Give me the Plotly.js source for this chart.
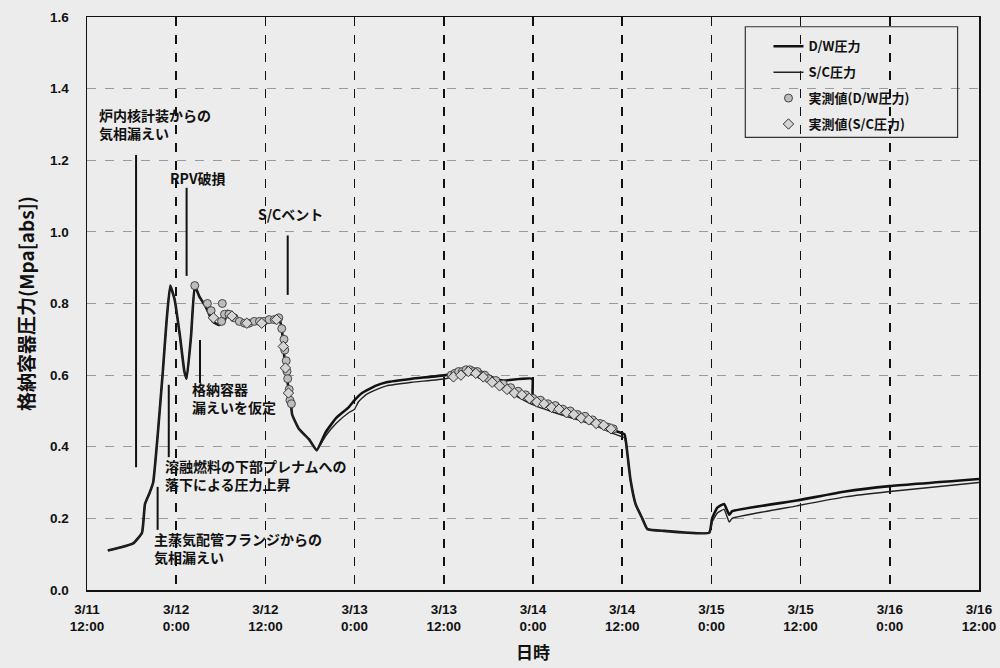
<!DOCTYPE html>
<html>
<head>
<meta charset="utf-8">
<script src="https://cdn.plot.ly/plotly-3.0.1.min.js"></script>
<style>
html,body{margin:0;padding:0;background:#ececec;}
#chart{width:1000px;height:668px;}
</style>
</head>
<body>
<div id="chart"></div>
<script>
// Hours elapsed since 2011-03-11 12:00
const dwHours = [2.8, 6.2, 7.4, 7.8, 8.4, 8.9, 9.5, 10.2, 10.7, 11.2, 11.8, 12.5, 13.1, 13.4, 14.0, 14.5, 15.1, 16.0, 16.9, 17.8, 18.5, 18.9, 19.6, 20.9, 22.8, 24.5, 25.8, 26.2, 26.5, 26.9, 27.4, 27.6, 28.5, 29.9, 30.9, 32.1, 33.5, 35.2, 36.0, 37.0, 38.8, 40.3, 43.7, 48.2, 49.9, 51.7, 53.0, 54.9, 56.0, 59.9, 60.0, 63.7, 68.3, 71.0, 72.3, 72.7, 73.1, 73.8, 74.7, 75.4, 77.6, 83.7, 84.1, 84.8, 85.7, 86.4, 86.8, 95.5, 102.0, 108.0, 120.0];
const dwPressure = [0.11, 0.13, 0.16, 0.24, 0.27, 0.30, 0.43, 0.61, 0.75, 0.85, 0.81, 0.71, 0.61, 0.59, 0.71, 0.85, 0.82, 0.79, 0.75, 0.74, 0.75, 0.78, 0.77, 0.75, 0.75, 0.75, 0.76, 0.73, 0.66, 0.59, 0.53, 0.49, 0.45, 0.42, 0.39, 0.44, 0.48, 0.51, 0.53, 0.55, 0.57, 0.58, 0.59, 0.60, 0.61, 0.62, 0.61, 0.59, 0.585, 0.59, 0.54, 0.505, 0.475, 0.445, 0.435, 0.38, 0.31, 0.24, 0.20, 0.17, 0.165, 0.16, 0.20, 0.23, 0.24, 0.21, 0.22, 0.25, 0.275, 0.29, 0.31];

const scHours = [2.8, 6.2, 7.4, 7.8, 8.4, 8.9, 9.5, 10.2, 10.7, 11.2, 11.8, 12.5, 13.1, 13.4, 14.0, 14.5, 15.1, 16.0, 16.9, 17.8, 18.5, 18.9, 19.6, 20.9, 22.8, 24.5, 25.8, 26.2, 26.5, 26.9, 27.4, 27.6, 28.5, 29.9, 30.9, 32.1, 33.5, 35.2, 36.0, 36.5, 37.5, 39.0, 40.3, 43.7, 48.2, 49.9, 51.7, 53.0, 55.0, 57.0, 59.7, 63.7, 68.3, 71.0, 72.3, 72.7, 73.1, 73.8, 74.7, 75.4, 77.6, 83.7, 84.1, 84.8, 85.7, 86.4, 86.8, 95.5, 102.0, 108.0, 120.0];
const scPressure = [0.11, 0.13, 0.16, 0.24, 0.27, 0.30, 0.43, 0.61, 0.75, 0.85, 0.81, 0.71, 0.61, 0.59, 0.71, 0.85, 0.82, 0.79, 0.75, 0.74, 0.75, 0.78, 0.77, 0.75, 0.75, 0.75, 0.76, 0.73, 0.66, 0.59, 0.53, 0.49, 0.45, 0.42, 0.39, 0.43, 0.465, 0.495, 0.505, 0.525, 0.545, 0.56, 0.57, 0.58, 0.59, 0.60, 0.615, 0.60, 0.57, 0.55, 0.52, 0.49, 0.46, 0.435, 0.425, 0.38, 0.31, 0.24, 0.20, 0.17, 0.165, 0.16, 0.19, 0.215, 0.225, 0.19, 0.20, 0.235, 0.26, 0.275, 0.30];

const dwMeasHours = [14.5, 16.2, 16.7, 18.1, 18.2, 18.5, 19.1, 19.8, 20.5, 21.2, 21.8, 22.5, 23.2, 23.8, 24.5, 25.2, 25.8, 26.2, 26.5, 26.6, 26.8, 26.9, 27.0, 27.2, 27.3, 27.5,
  49.0, 49.5, 50.0, 50.5, 51.0, 51.5, 52.0, 52.5, 53.0, 53.5, 54.0, 55.0, 56.0, 57.0, 58.0, 59.0, 60.0, 61.0, 62.0, 63.0, 64.0, 65.0, 66.0, 67.0, 68.0, 69.0, 70.0, 70.8];
const dwMeasPressure = [0.85, 0.80, 0.78, 0.75, 0.80, 0.77, 0.77, 0.76, 0.75, 0.745, 0.745, 0.75, 0.75, 0.75, 0.755, 0.755, 0.76, 0.73, 0.70, 0.67, 0.64, 0.61, 0.59, 0.56, 0.53, 0.52,
  0.60, 0.605, 0.61, 0.61, 0.615, 0.615, 0.61, 0.61, 0.60, 0.60, 0.59, 0.585, 0.575, 0.565, 0.555, 0.545, 0.535, 0.53, 0.52, 0.515, 0.505, 0.50, 0.49, 0.485, 0.475, 0.465, 0.455, 0.45];

const scMeasHours = [17.0, 19.5, 21.5, 23.5, 25.5, 26.4, 26.7, 27.1,
  49.3, 50.3, 51.3, 52.3, 53.3, 54.5, 55.5, 56.5, 57.5, 58.5, 59.5, 60.5, 61.5, 62.5, 63.5, 64.5, 65.5, 66.5, 67.5, 68.5, 69.5, 70.5];
const scMeasPressure = [0.76, 0.765, 0.745, 0.745, 0.755, 0.68, 0.62, 0.55,
  0.595, 0.60, 0.61, 0.605, 0.595, 0.58, 0.57, 0.56, 0.55, 0.545, 0.535, 0.525, 0.52, 0.51, 0.505, 0.495, 0.49, 0.48, 0.475, 0.465, 0.46, 0.45];

const tickHours = [0, 12, 24, 36, 48, 60, 72, 84, 96, 108, 120];
const tickLabels = ['3/11<br>12:00', '3/12<br>0:00', '3/12<br>12:00', '3/13<br>0:00', '3/13<br>12:00', '3/14<br>0:00', '3/14<br>12:00', '3/15<br>0:00', '3/15<br>12:00', '3/16<br>0:00', '3/16<br>12:00'];
const yTicks = [0.0, 0.2, 0.4, 0.6, 0.8, 1.0, 1.2, 1.4, 1.6];
const yTickLabels = ['0.0', '0.2', '0.4', '0.6', '0.8', '1.0', '1.2', '1.4', '1.6'];

// Event annotations
const eventTexts = ['炉内核計装からの<br>気相漏えい', 'RPV破損', 'S/Cベント', '格納容器<br>漏えいを仮定', '溶融燃料の下部プレナムへの<br>落下による圧力上昇', '主蒸気配管フランジからの<br>気相漏えい'];
const eventLabelHours = [1.3, 10.9, 22.7, 13.8, 10.2, 8.7];
const eventLabelValues = [1.30, 1.15, 1.05, 0.536, 0.321, 0.117];
const eventLineHours = [6.6, 13.4, 27.0, 15.2, 11.0, 9.5];
const eventLineTop = [1.215, 1.123, 0.99, 0.698, 0.573, 0.288];
const eventLineBottom = [0.343, 0.877, 0.824, 0.578, 0.371, 0.168];

const BASE = Date.UTC(2011, 2, 11, 12, 0, 0);
function t(h) {
  return new Date(BASE + Math.round(h * 3600000)).toISOString().slice(0, 19).replace('T', ' ');
}

const FONT = '"Noto Sans CJK JP", "Liberation Sans", Arial, sans-serif';
const TFONT = '"Liberation Sans", Arial, sans-serif';

const traces = [
  {x: dwHours.map(t), y: dwPressure, name: '<b>D/W圧力</b>', mode: 'lines',
   line: {color: '#111', width: 2.6, shape: 'spline', smoothing: 0.4}, legendgroup: 'a'},
  {x: scHours.map(t), y: scPressure, name: '<b>S/C圧力</b>', mode: 'lines',
   line: {color: '#222', width: 1.4, shape: 'spline', smoothing: 0.4}, legendgroup: 'b'},
  {x: dwMeasHours.map(t), y: dwMeasPressure, name: '<b>実測値(D/W圧力)</b>', mode: 'markers',
   marker: {symbol: 'circle', size: 8, color: '#bdbdbd', line: {color: '#444', width: 1}}, legendgroup: 'c'},
  {x: scMeasHours.map(t), y: scMeasPressure, name: '<b>実測値(S/C圧力)</b>', mode: 'markers',
   marker: {symbol: 'diamond', size: 8, color: '#d4d4d4', line: {color: '#333', width: 1}}, legendgroup: 'd'}
];

const shapes = eventLineHours.map((h, i) => ({
  type: 'line', xref: 'x', yref: 'y', x0: t(h), x1: t(h), y0: eventLineBottom[i], y1: eventLineTop[i],
  line: {color: '#111', width: 2}
}));
shapes.push({type: 'rect', xref: 'paper', yref: 'paper', x0: 0.738, x1: 0.976, y0: 0.79, y1: 0.983,
  line: {color: '#333', width: 1.2}, fillcolor: 'rgba(0,0,0,0)'});

const annotations = eventTexts.map((s, i) => ({
  x: t(eventLabelHours[i]), y: eventLabelValues[i], xref: 'x', yref: 'y', text: '<b>' + s + '</b>',
  showarrow: false, xanchor: 'left', yanchor: 'middle', align: 'left',
  font: {family: FONT, size: 14, color: '#111'}
}));

const layout = {
  width: 1000, height: 668,
  paper_bgcolor: '#ececec', plot_bgcolor: '#ececec',
  margin: {l: 87, r: 21, t: 17, b: 78},
  showlegend: true,
  legend: {x: 0.764, y: 0.975, xanchor: 'left', yanchor: 'top', bgcolor: 'rgba(0,0,0,0)', borderwidth: 0,
    font: {family: FONT, size: 13, color: '#111'}, tracegroupgap: 6, traceorder: 'grouped', itemwidth: 30},
  xaxis: {
    type: 'date', range: [t(0), t(120)],
    tickvals: tickHours.map(t), ticktext: tickLabels.map(s => '<b>' + s + '</b>'),
    showgrid: true, gridcolor: '#111', griddash: 'dash', gridwidth: 1.5,
    showline: true, linecolor: '#111', linewidth: 1.5, mirror: true,
    ticks: '', ticklabelstandoff: 6, zeroline: false,
    tickfont: {family: TFONT, size: 13.5, color: '#111'},
    title: {text: '<b>日時</b>', font: {family: FONT, size: 17, color: '#111'}, standoff: 14}
  },
  yaxis: {
    range: [0, 1.6], tickvals: yTicks, ticktext: yTickLabels.map(s => '<b>' + s + '</b>'),
    showgrid: true, gridcolor: '#9a9a9a', griddash: 'dash', gridwidth: 1,
    showline: true, linecolor: '#111', linewidth: 1.5, mirror: true,
    ticks: '', ticklabelstandoff: 14, zeroline: false,
    tickfont: {family: TFONT, size: 13.5, color: '#111'},
    title: {text: '<b>格納容器圧力(Mpa[abs])</b>', font: {family: FONT, size: 19, color: '#111'}, standoff: 10}
  },
  shapes: shapes,
  annotations: annotations
};

Plotly.newPlot('chart', traces, layout, {displayModeBar: false, staticPlot: true});
</script>
</body>
</html>
